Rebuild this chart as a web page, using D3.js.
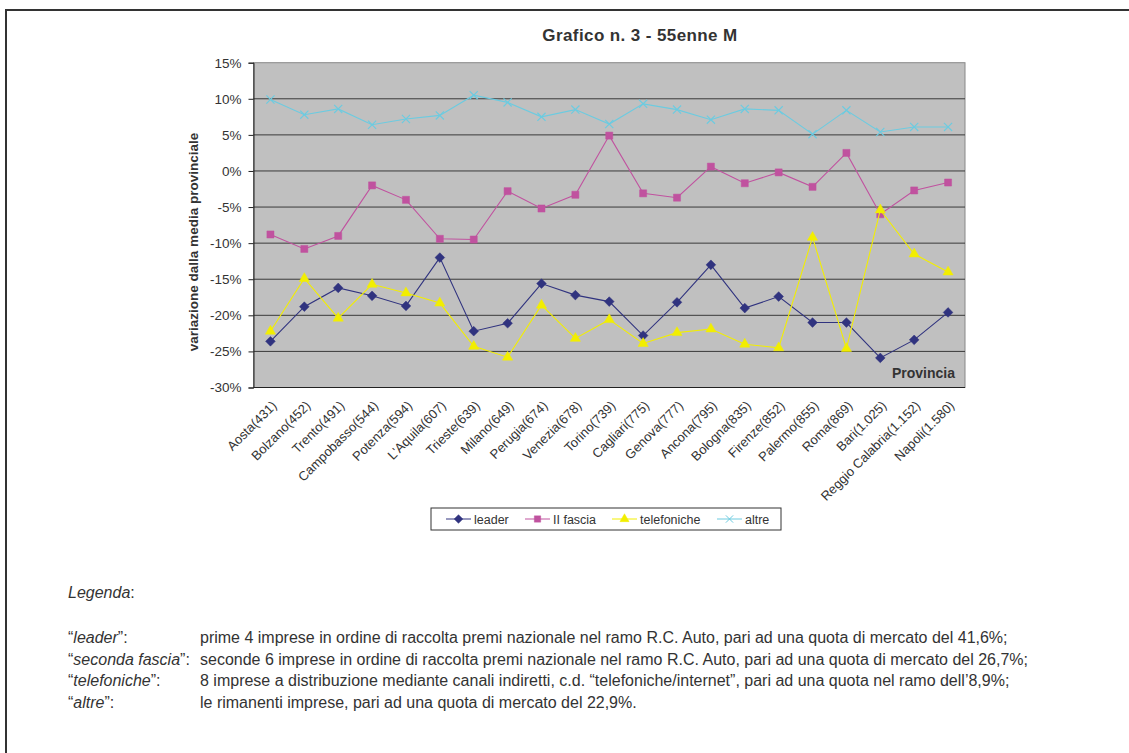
<!DOCTYPE html>
<html>
<head>
<meta charset="utf-8">
<script src="https://cdn.jsdelivr.net/npm/d3@7"></script>
<style>
  body { margin: 0; background: #fff; }
  svg text { font-family: Arial, "Liberation Sans", sans-serif; fill: #333; }
</style>
</head>
<body>
<div id="chart"></div>
<script>
// data (% variation from provincial mean)
const provinces = ["Aosta(431)", "Bolzano(452)", "Trento(491)", "Campobasso(544)", "Potenza(594)",
    "L'Aquila(607)", "Trieste(639)", "Milano(649)", "Perugia(674)", "Venezia(678)", "Torino(739)",
    "Cagliari(775)", "Genova(777)", "Ancona(795)", "Bologna(835)", "Firenze(852)", "Palermo(855)",
    "Roma(869)", "Bari(1.025)", "Reggio Calabria(1.152)", "Napoli(1.580)"];
const leader = [-23.6, -18.8, -16.2, -17.3, -18.7, -12.0, -22.2, -21.1, -15.6, -17.2, -18.1,
    -22.8, -18.2, -13.0, -19.0, -17.4, -21.0, -21.0, -25.9, -23.4, -19.6];
const secondaFascia = [-8.8, -10.8, -9.0, -2.0, -4.0, -9.4, -9.5, -2.8, -5.2, -3.3, 4.9,
    -3.1, -3.7, 0.6, -1.7, -0.2, -2.2, 2.5, -6.0, -2.7, -1.6];
const telefoniche = [-22.2, -14.9, -20.4, -15.7, -16.9, -18.3, -24.3, -25.8, -18.6, -23.2, -20.6,
    -23.9, -22.4, -21.9, -24.0, -24.5, -9.2, -24.6, -5.4, -11.5, -14.0];
const altre = [9.9, 7.8, 8.6, 6.4, 7.2, 7.7, 10.5, 9.5, 7.5, 8.5, 6.5,
    9.3, 8.5, 7.1, 8.6, 8.4, 5.1, 8.4, 5.4, 6.1, 6.1];
const yTicks = [15, 10, 5, 0, -5, -10, -15, -20, -25, -30];

const series = [
    { name: "leader", values: leader, color: "#30337f", symbol: d3.symbolDiamond2, size: 60, fill: true },
    { name: "II fascia", values: secondaFascia, color: "#c0529f", symbol: d3.symbolSquare, size: 50, fill: true },
    { name: "telefoniche", values: telefoniche, color: "#f2ee00", symbol: d3.symbolTriangle, size: 45, fill: true },
    { name: "altre", values: altre, color: "#6ccbe0", symbol: d3.symbolX, size: 45, fill: false }
];

const svgWidth = 1129, svgHeight = 753;
const plot = { left: 253.5, right: 965, top: 62.7, bottom: 387.5 };

let svg = d3.select("#chart").append("svg")
    .attr("width", svgWidth)
    .attr("height", svgHeight);

// page frame lines
svg.append("line").attr("x1", 5).attr("x2", svgWidth).attr("y1", 10).attr("y2", 10)
    .attr("stroke", "#333").attr("stroke-width", 2);
svg.append("line").attr("x1", 6).attr("x2", 6).attr("y1", 9).attr("y2", svgHeight)
    .attr("stroke", "#333").attr("stroke-width", 2);

// scales
let xScale = d3.scalePoint()
    .domain(provinces)
    .range([plot.left, plot.right])
    .padding(0.5);
let yScale = d3.scaleLinear()
    .domain([-30, 15])
    .range([plot.bottom, plot.top]);

// plot background
svg.append("rect")
    .attr("x", plot.left).attr("y", plot.top)
    .attr("width", plot.right - plot.left).attr("height", plot.bottom - plot.top)
    .attr("fill", "#c0c0c0")
    .attr("stroke", "#888").attr("stroke-width", 1);

// gridlines
svg.append("g").selectAll("line")
    .data(yTicks.filter((d) => d > -30 && d < 15))
    .join("line")
    .attr("x1", plot.left).attr("x2", plot.right)
    .attr("y1", (d) => yScale(d)).attr("y2", (d) => yScale(d))
    .attr("stroke", "#3a3a3a").attr("stroke-width", 1);

// y axis
let yAxis = svg.append("g")
    .attr("transform", `translate(${plot.left}, 0)`)
    .call(d3.axisLeft(yScale).tickValues(yTicks).tickSize(5).tickPadding(7)
        .tickFormat((d) => d + "%"));
yAxis.select(".domain").attr("stroke", "#222");
yAxis.selectAll(".tick line").attr("stroke", "#222");
yAxis.selectAll("text").attr("font-size", "13.5px").attr("fill", "#333")
    .attr("font-family", "Arial, 'Liberation Sans', sans-serif");

// x axis line
svg.append("line")
    .attr("x1", plot.left).attr("x2", plot.right)
    .attr("y1", plot.bottom).attr("y2", plot.bottom)
    .attr("stroke", "#222");

// x labels (rotated)
svg.append("g").selectAll("text")
    .data(provinces)
    .join("text")
    .attr("text-anchor", "end")
    .attr("font-size", "13px")
    .attr("transform", (d) => `translate(${xScale(d) + 7}, ${plot.bottom + 19}) rotate(-45)`)
    .text((d) => d);

// lines and markers
series.forEach((s) => {
    let line = d3.line()
        .x((d, i) => xScale(provinces[i]))
        .y((d) => yScale(d));
    svg.append("path")
        .datum(s.values)
        .attr("d", line)
        .attr("fill", "none")
        .attr("stroke", s.color)
        .attr("stroke-width", 1.1);
    svg.append("g").selectAll("path")
        .data(s.values)
        .join("path")
        .attr("transform", (d, i) => `translate(${xScale(provinces[i])}, ${yScale(d)})`)
        .attr("d", d3.symbol().type(s.symbol).size(s.size))
        .attr("fill", s.fill ? s.color : "none")
        .attr("stroke", s.color)
        .attr("stroke-width", s.fill ? 0.5 : 1.2);
});

// titles
svg.append("text")
    .attr("x", 640).attr("y", 41)
    .attr("text-anchor", "middle")
    .attr("font-size", "17px").attr("font-weight", "bold")
    .attr("letter-spacing", "0.4px")
    .text("Grafico n. 3 - 55enne M");
svg.append("text")
    .attr("transform", `translate(198, 242) rotate(-90)`)
    .attr("text-anchor", "middle")
    .attr("font-size", "13.5px").attr("font-weight", "bold")
    .text("variazione dalla media provinciale");
svg.append("text")
    .attr("x", 955).attr("y", 378)
    .attr("text-anchor", "end")
    .attr("font-size", "14px").attr("font-weight", "bold")
    .text("Provincia");

// legend
let legend = svg.append("g");
legend.append("rect")
    .attr("x", 431).attr("y", 508).attr("width", 350).attr("height", 22)
    .attr("fill", "#fff").attr("stroke", "#333").attr("stroke-width", 1);
const legendX = [446, 525, 612, 717];
series.forEach((s, i) => {
    let g = legend.append("g").attr("transform", `translate(${legendX[i]}, 519)`);
    g.append("line").attr("x1", 0).attr("x2", 25).attr("y1", 0).attr("y2", 0)
        .attr("stroke", s.color).attr("stroke-width", 1);
    g.append("path")
        .attr("transform", "translate(12.5, 0)")
        .attr("d", d3.symbol().type(s.symbol).size(s.size * 0.8))
        .attr("fill", s.fill ? s.color : "none")
        .attr("stroke", s.color)
        .attr("stroke-width", s.fill ? 0.5 : 1);
    g.append("text").attr("x", 28).attr("y", 5)
        .attr("font-size", "12.5px")
        .text(s.name);
});

// notes under the chart
const notes = [
    { label: "leader", text: "prime 4 imprese in ordine di raccolta premi nazionale nel ramo R.C. Auto, pari ad una quota di mercato del 41,6%;" },
    { label: "seconda fascia", text: "seconde 6 imprese in ordine di raccolta premi nazionale nel ramo R.C. Auto, pari ad una quota di mercato del 26,7%;" },
    { label: "telefoniche", text: "8 imprese a distribuzione mediante canali indiretti, c.d. \u201ctelefoniche/internet\u201d, pari ad una quota nel ramo dell\u20198,9%;" },
    { label: "altre", text: "le rimanenti imprese, pari ad una quota di mercato del 22,9%." }
];

let leg = svg.append("text").attr("x", 68).attr("y", 598).attr("font-size", "16px");
leg.append("tspan").attr("font-style", "italic").text("Legenda");
leg.append("tspan").text(":");

notes.forEach((n, i) => {
    let y = 643 + i * 21.7;
    let t = svg.append("text").attr("x", 68).attr("y", y).attr("font-size", "16px");
    t.append("tspan").text("\u201c");
    t.append("tspan").attr("font-style", "italic").text(n.label);
    t.append("tspan").text("\u201d:");
    svg.append("text").attr("x", 200).attr("y", y).attr("font-size", "16px")
        .text(n.text);
});
</script>
</body>
</html>
